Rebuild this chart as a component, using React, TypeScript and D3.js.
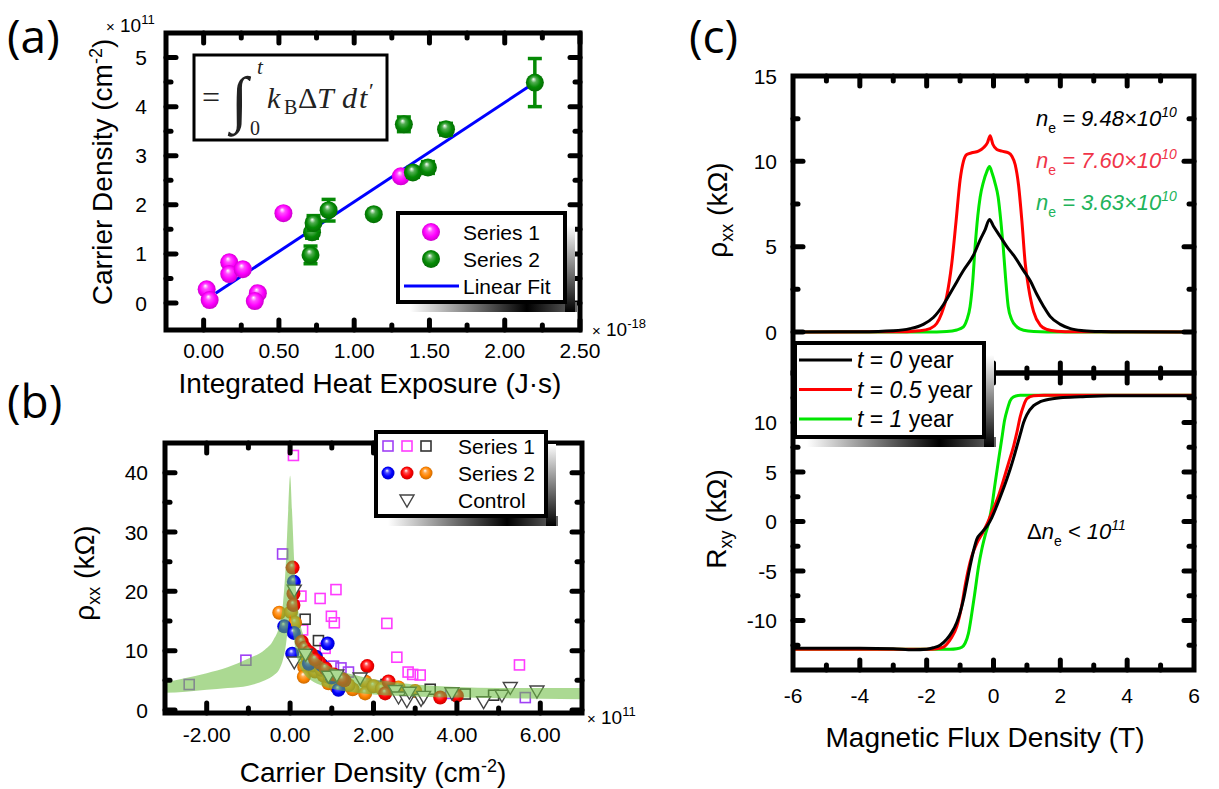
import React from "react";
import * as d3 from "d3";

// ---------- (a) carrier density vs integrated heat exposure ----------
const heatS1 = [0.02, 0.04, 0.17, 0.17, 0.26, 0.36, 0.34, 0.53, 1.31];
const densS1 = [0.28, 0.06, 0.83, 0.59, 0.69, 0.2, 0.04, 1.83, 2.58];
const heatS2 = [0.71, 0.72, 0.73, 0.83, 1.13, 1.33, 1.39, 1.49, 1.61, 2.2];
const densS2 = [0.98, 1.44, 1.63, 1.89, 1.81, 3.64, 2.66, 2.76, 3.54, 4.49];
const errS2 = [0.18, 0.12, 0.15, 0.22, 0, 0.15, 0.1, 0.12, 0.12, 0.49];
const fitHeat = [0.08, 2.2];
const fitDens = [0.2, 4.49];
const aXTicks = [0, 0.5, 1, 1.5, 2, 2.5];
const aXMinor = [0.25, 0.75, 1.25, 1.75, 2.25];
const aYTicks = [0, 1, 2, 3, 4, 5];
const aYMinor = [0.5, 1.5, 2.5, 3.5, 4.5];

// ---------- (b) rho_xx vs carrier density ----------
const sqVioletN = [-2.42, -1.06, -0.18, 1.04, 1.22, 1.4, 2.14, 3.85, 5.64];
const sqVioletR = [4.3, 8.4, 26.3, 7.4, 7.1, 6.4, 4.0, 2.8, 2.1];
const sqPinkN = [0.08, 0.26, 0.72, 1.1, 0.99, 1.06, 2.32, 2.56, 2.83, 2.94, 3.12, 5.5, 0.3, 0.84];
const sqPinkR = [42.9, 19.2, 18.8, 20.3, 15.8, 14.7, 14.6, 8.9, 6.4, 6.0, 5.9, 7.6, 13.5, 10.4];
const sqDarkN = [0.36, 0.68, 2.3, 3.36, 4.2, 4.88];
const sqDarkR = [15.3, 11.7, 4.3, 3.5, 2.7, 2.5];
const blueN = [0.09, -0.14, 0.09, 0.05, 0.62, 0.9, 0.76, 1.16, 0.45, 1.0];
const blueR = [21.6, 14.1, 13.0, 9.5, 9.0, 11.2, 7.6, 3.4, 7.8, 5.5];
const redN = [0.06, 0.08, 0.08, 0.28, 1.85, 2.28, 2.36, 3.6, 4.0, 0.5, 0.7, 1.3, 0.35, 0.45, 0.6, 0.85, 1.05, 1.25];
const redR = [24.0, 19.6, 17.7, 11.5, 7.4, 2.8, 4.8, 2.1, 2.4, 9.5, 8.0, 5.0, 10.5, 9.8, 8.5, 7.0, 6.0, 5.2];
const orangeN = [-0.26, 0.02, 0.12, 0.34, 0.33, 0.92, 1.8, 1.8, 0.6, 0.8, 1.1, 2.6, 3.0, 1.5, 0.4, 0.55, 0.75, 0.95, 1.2, 1.4, 2.0, 2.2];
const orangeR = [16.4, 16.5, 14.7, 7.2, 5.6, 4.5, 4.8, 2.8, 6.5, 5.8, 4.0, 3.8, 3.2, 3.5, 9.0, 7.5, 6.8, 5.5, 4.6, 4.2, 4.0, 3.6];
const ctrlN = [0.1, 0.1, 0.37, 0.92, 1.12, 1.68, 2.52, 2.6, 2.8, 2.86, 3.14, 3.2, 3.88, 4.64, 5.08, 5.28, 5.92];
const ctrlR = [20.2, 8.1, 9.4, 5.7, 5.9, 5.4, 3.3, 2.2, 1.6, 3.0, 1.8, 2.3, 2.9, 1.4, 2.5, 3.8, 3.2];
const bandN = [-3, -2.5, -2, -1.5, -1, -0.6, -0.4, -0.25, -0.17, -0.1, -0.05, 0, 0.05, 0.1, 0.2, 0.35, 0.5, 0.8, 1.2, 1.6, 2, 2.5, 3, 4, 5, 6, 7];
const bandHigh = [4.7, 5.4, 6.2, 7.2, 8.7, 10.2, 11.8, 14.5, 18, 25, 33, 39.5, 33, 25, 16.5, 12, 10, 8, 6.6, 5.8, 5.2, 4.7, 4.3, 3.9, 3.7, 3.7, 3.7];
const bandLow = [2.9, 3.1, 3.4, 3.7, 4.1, 5.0, 5.8, 7.0, 8.5, 11, 14, 16, 14, 11.5, 8, 6, 5, 4, 3.3, 2.9, 2.6, 2.4, 2.3, 2.1, 2.0, 1.9, 1.8];
const bXTicks = [-2, 0, 2, 4, 6];
const bXMinor = [-1, 1, 3, 5];
const bYTicks = [0, 10, 20, 30, 40];
const bYMinor = [5, 15, 25, 35];

// ---------- (c) magnetotransport ----------
const rxxB0 = [-6, -4, -3, -2.5, -2.1, -1.8, -1.5, -1.2, -0.9, -0.6, -0.4, -0.25, -0.12, 0.0, 0.2, 0.4, 0.6, 0.9, 1.1, 1.3, 1.5, 1.7, 2.0, 2.3, 2.7, 3.2, 4, 6];
const rxx0 = [0, 0.02, 0.08, 0.2, 0.45, 0.85, 1.6, 2.6, 3.6, 4.5, 5.4, 6.0, 6.6, 6.2, 5.6, 5.0, 4.5, 3.6, 3.0, 2.2, 1.5, 0.9, 0.45, 0.2, 0.08, 0.03, 0.01, 0];
const rxxB05 = [-6, -3, -2.2, -1.9, -1.7, -1.55, -1.4, -1.25, -1.12, -1.0, -0.9, -0.8, -0.65, -0.45, -0.3, -0.18, -0.1, -0.02, 0.1, 0.25, 0.45, 0.55, 0.65, 0.75, 0.85, 0.95, 1.05, 1.2, 1.4, 1.6, 1.9, 2.4, 6];
const rxx05 = [0, 0.01, 0.08, 0.2, 0.5, 1.1, 2.1, 4.0, 6.5, 8.9, 10.0, 10.4, 10.5, 10.6, 10.8, 11.1, 11.5, 11.0, 10.7, 10.6, 10.5, 10.3, 9.8, 8.6, 6.5, 4.0, 2.6, 1.2, 0.4, 0.15, 0.05, 0.01, 0];
const rxxB1 = [-6, -2, -1.4, -1.1, -0.9, -0.8, -0.7, -0.62, -0.55, -0.47, -0.4, -0.3, -0.2, -0.12, -0.04, 0.05, 0.14, 0.22, 0.29, 0.36, 0.44, 0.55, 0.7, 0.9, 1.2, 2, 6];
const rxx1 = [0, 0, 0.03, 0.12, 0.3, 0.7, 1.5, 3.0, 5.0, 6.8, 7.9, 8.8, 9.4, 9.7, 9.3, 8.7, 7.9, 6.5, 5.0, 3.2, 1.5, 0.7, 0.3, 0.1, 0.03, 0, 0];
const rxyB0 = [-6, -4, -3, -2.4, -2.0, -1.8, -1.6, -1.4, -1.25, -1.1, -1.0, -0.9, -0.8, -0.7, -0.6, -0.5, -0.35, -0.2, -0.05, 0.1, 0.25, 0.4, 0.5, 0.6, 0.7, 0.8, 0.9, 1.0, 1.2, 1.4, 1.6, 2.0, 2.6, 3.5, 4.5, 6];
const rxy0 = [-12.8, -12.8, -12.85, -12.95, -12.9, -12.75, -12.5, -11.9, -11.2, -10.2, -9.2, -7.9, -6.2, -4.5, -3.0, -1.8, -1.1, -0.5, 0.4, 1.6, 2.9, 4.3, 5.3, 6.4, 7.6, 8.8, 10.0, 10.8, 11.7, 12.1, 12.3, 12.5, 12.6, 12.7, 12.7, 12.7];
const rxyB05 = [-6, -3, -2.0, -1.7, -1.5, -1.4, -1.25, -1.1, -0.95, -0.85, -0.75, -0.65, -0.5, -0.35, -0.2, -0.1, 0.0, 0.15, 0.3, 0.45, 0.6, 0.7, 0.8, 0.9, 1.0, 1.2, 1.5, 2, 6];
const rxy05 = [-12.9, -12.9, -12.9, -12.85, -12.7, -12.4, -11.7, -10.6, -8.5, -6.5, -4.8, -3.5, -2.2, -1.3, -0.3, 0.5, 1.3, 2.6, 4.2, 5.9, 7.6, 9.0, 10.6, 11.7, 12.4, 12.7, 12.75, 12.75, 12.75];
const rxyB1 = [-6, -2, -1.3, -1.1, -0.95, -0.85, -0.75, -0.65, -0.55, -0.45, -0.35, -0.25, -0.15, -0.05, 0.05, 0.15, 0.25, 0.33, 0.42, 0.5, 0.6, 0.8, 1.2, 6];
const rxy1 = [-12.9, -12.9, -12.9, -12.85, -12.7, -12.3, -11.3, -9.3, -7.0, -4.6, -2.8, -1.4, -0.2, 1.5, 3.9, 6.2, 8.4, 10.2, 11.4, 12.2, 12.6, 12.75, 12.75, 12.75];
const cXTicks = [-6, -4, -2, 0, 2, 4, 6];
const cXMinor = [-5, -3, -1, 1, 3, 5];
const cTopTicks = [0, 5, 10, 15];
const cTopMinor = [2.5, 7.5, 12.5];
const cBotTicks = [-10, -5, 0, 5, 10];
const cBotMinor = [-12.5, -7.5, -2.5, 2.5, 7.5, 12.5];
const legendC = ["0", "0.5", "1"];
const colorsC = ["#000000", "#ff0000", "#00e600"];

const SANS = "'Liberation Sans', Arial, sans-serif";
const SERIF = "'Liberation Serif', 'DejaVu Serif', serif";
const LETTER = "'Open Sans', 'Noto Sans', sans-serif";

const fmt2 = (v: number) => d3.format(".2f")(v).replace("−", "-");
const fmtInt = (v: number) => d3.format("d")(v).replace("−", "-");

const sphereColors: [string, string][] = [
  ["magenta", "#ff00ff"],
  ["green", "#058a05"],
  ["blue", "#0000ff"],
  ["red", "#ff0000"],
  ["orange", "#ff8400"],
];

function SphereGrad({ id, color }: { id: string; color: string }) {
  const dark = d3.color(color)!.darker(0.8).formatHex();
  return (
    <radialGradient id={"sph-" + id} cx="0.5" cy="0.5" r="0.55" fx="0.42" fy="0.3">
      <stop offset="0" stopColor="#ffffff" />
      <stop offset="0.28" stopColor={d3.interpolateRgb(color, "#fff")(0.3)} />
      <stop offset="0.62" stopColor={color} />
      <stop offset="1" stopColor={dark} />
    </radialGradient>
  );
}

function Ticks({ scale, values, side, edge, len }: any) {
  return (
    <g stroke="#000" strokeWidth={5} strokeLinecap="round">
      {values.map((v: number) => {
        const p = scale(v);
        if (side === "bottom") return <line key={v} x1={p} x2={p} y1={edge} y2={edge - len} />;
        if (side === "top") return <line key={v} x1={p} x2={p} y1={edge} y2={edge + len} />;
        if (side === "left") return <line key={v} y1={p} y2={p} x1={edge} x2={edge + len} />;
        return <line key={v} y1={p} y2={p} x1={edge} x2={edge - len} />;
      })}
    </g>
  );
}

function Box4({ x, y, sx, sy, xMaj, xMin, yMaj, yMin }: any) {
  const [L, R] = x;
  const [T, B] = y;
  return (
    <g>
      <rect x={L} y={T} width={R - L} height={B - T} fill="none" stroke="#000" strokeWidth={5} />
      <Ticks scale={sx} values={xMaj} side="bottom" edge={B} len={10} />
      <Ticks scale={sx} values={xMin} side="bottom" edge={B} len={5} />
      <Ticks scale={sx} values={xMaj} side="top" edge={T} len={10} />
      <Ticks scale={sx} values={xMin} side="top" edge={T} len={5} />
      <Ticks scale={sy} values={yMaj} side="left" edge={L} len={10} />
      <Ticks scale={sy} values={yMin} side="left" edge={L} len={5} />
      <Ticks scale={sy} values={yMaj} side="right" edge={R} len={10} />
      <Ticks scale={sy} values={yMin} side="right" edge={R} len={5} />
    </g>
  );
}

function LegendBox({ x, y, w, h, id }: any) {
  return (
    <g>
      <defs>
        <linearGradient id={id + "-b"} x1="0" x2="1" y1="0" y2="0">
          <stop offset="0" stopColor="#fff" />
          <stop offset="0.7" stopColor="#000" />
          <stop offset="1" stopColor="#666" />
        </linearGradient>
        <linearGradient id={id + "-r"} x1="0" x2="0" y1="0" y2="1">
          <stop offset="0" stopColor="#fff" />
          <stop offset="1" stopColor="#000" />
        </linearGradient>
      </defs>
      <rect x={x + 12} y={y + h} width={w} height={10} fill={`url(#${id}-b)`} />
      <rect x={x + w} y={y + 12} width={10} height={h - 2} fill={`url(#${id}-r)`} />
      <rect x={x} y={y} width={w} height={h} fill="#fff" stroke="#000" strokeWidth={4} />
    </g>
  );
}

function YLabels({ scale, values, x, fmt }: any) {
  return (
    <g fontSize={21} textAnchor="end">
      {values.map((v: number) => (
        <text key={v} x={x} y={scale(v) + 7.5}>{fmt(v)}</text>
      ))}
    </g>
  );
}

function XLabels({ scale, values, y, fmt }: any) {
  return (
    <g fontSize={21} textAnchor="middle">
      {values.map((v: number) => (
        <text key={v} x={scale(v)} y={y}>{fmt(v)}</text>
      ))}
    </g>
  );
}

function PanelA() {
  const sx = d3.scaleLinear().domain([-0.25, 2.5]).range([166, 580]);
  const sy = d3.scaleLinear().domain([-0.55, 5.5]).range([330, 33]);
  const fit = d3.line()(fitHeat.map((h, i) => [sx(h), sy(fitDens[i])]) as [number, number][]);
  return (
    <g>
      <text x={7} y={53} fontSize={46} fontFamily={LETTER}>(a)</text>
      {/* formula box */}
      <rect x={194} y={55} width={193} height={85} fill="#fff" stroke="#000" strokeWidth={3} />
      <g fontFamily={SERIF} fill="#222">
        <text x={202} y={108} fontSize={32}>=</text>
        <text x={231} y={120} fontSize={62}>∫</text>
        <text x={257} y={74} fontSize={21} fontStyle="italic">t</text>
        <text x={250} y={135} fontSize={20}>0</text>
        <text x={267} y={108} fontSize={30} fontStyle="italic">k</text>
        <text x={284} y={114} fontSize={20}>B</text>
        <text x={298} y={108} fontSize={30}>Δ</text>
        <text x={317} y={108} fontSize={30} fontStyle="italic">T</text>
        <text x={342} y={108} fontSize={30} fontStyle="italic">d</text>
        <text x={359} y={108} fontSize={30} fontStyle="italic">t</text>
        <text x={369} y={98} fontSize={22}>′</text>
      </g>
      <path d={fit ?? ""} stroke="#0000ff" strokeWidth={3} fill="none" />
      {heatS1.map((h, i) => (
        <circle key={"s1" + i} cx={sx(h)} cy={sy(densS1[i])} r={9} fill="url(#sph-magenta)" />
      ))}
      {heatS2.map((h, i) => {
        const e = errS2[i];
        const cx = sx(h);
        return (
          <g key={"s2" + i}>
            {e > 0 && (
              <g stroke="#058a05" strokeWidth={3.5}>
                <line x1={cx} x2={cx} y1={sy(densS2[i] - e)} y2={sy(densS2[i] + e)} />
                <line x1={cx - 7} x2={cx + 7} y1={sy(densS2[i] - e)} y2={sy(densS2[i] - e)} />
                <line x1={cx - 7} x2={cx + 7} y1={sy(densS2[i] + e)} y2={sy(densS2[i] + e)} />
              </g>
            )}
            <circle cx={cx} cy={sy(densS2[i])} r={9} fill="url(#sph-green)" />
          </g>
        );
      })}
      <Box4 x={[166, 580]} y={[33, 330]} sx={sx} sy={sy} xMaj={aXTicks} xMin={aXMinor} yMaj={aYTicks} yMin={aYMinor} />
      <XLabels scale={sx} values={aXTicks} y={358} fmt={fmt2} />
      <YLabels scale={sy} values={aYTicks} x={147} fmt={fmtInt} />
      <text x={106} y={32} fontSize={19}>
        <tspan fontSize={15}>×</tspan> 10<tspan dy={-8} fontSize={13}>11</tspan>
      </text>
      <text x={592} y={336} fontSize={19}>
        <tspan fontSize={15}>×</tspan> 10<tspan dy={-8} fontSize={13}>-18</tspan>
      </text>
      <text transform="translate(112,172) rotate(-90)" fontSize={28} textAnchor="middle">
        Carrier Density (cm<tspan dy={-10} fontSize={18}>-2</tspan><tspan dy={10}>)</tspan>
      </text>
      <text x={370} y={393} fontSize={28} textAnchor="middle">Integrated Heat Exposure (J·s)</text>
      <LegendBox x={398} y={213} w={167} h={89} id="lga" />
      <circle cx={431} cy={232} r={9} fill="url(#sph-magenta)" />
      <circle cx={431} cy={259} r={9} fill="url(#sph-green)" />
      <line x1={404} x2={459} y1={286} y2={286} stroke="#0000ff" strokeWidth={3} />
      <g fontSize={21}>
        <text x={463} y={239.5}>Series 1</text>
        <text x={463} y={266.5}>Series 2</text>
        <text x={463} y={293.5}>Linear Fit</text>
      </g>
    </g>
  );
}

function tri(cx: number, cy: number) {
  return `M${cx - 7},${cy - 5}L${cx + 7},${cy - 5}L${cx},${cy + 7}Z`;
}

function PanelB() {
  const sx = d3.scaleLinear().domain([-3, 7]).range([165, 582]);
  const sy = d3.scaleLinear().domain([-0.5, 45]).range([713, 443]);
  const band = d3
    .area<number>()
    .x((n) => sx(n))
    .y0((_, i) => sy(bandLow[i]))
    .y1((_, i) => sy(bandHigh[i]))
    .curve(d3.curveMonotoneX)(bandN);
  const squares: [number[], number[], string][] = [
    [sqVioletN, sqVioletR, "#a040f5"],
    [sqPinkN, sqPinkR, "#ff3cff"],
    [sqDarkN, sqDarkR, "#333333"],
  ];
  const spheres: [number[], number[], string][] = [
    [orangeN, orangeR, "orange"],
    [blueN, blueR, "blue"],
    [redN, redR, "red"],
  ];
  return (
    <g>
      <text x={7} y={418} fontSize={46} fontFamily={LETTER}>(b)</text>
      {squares.map(([xs, ys, c], k) =>
        xs.map((n, i) => (
          <rect key={k + "-" + i} x={sx(n) - 5} y={sy(ys[i]) - 5} width={10} height={10} fill="none" stroke={c} strokeWidth={1.6} />
        ))
      )}
      {spheres.map(([xs, ys, c], k) =>
        xs.map((n, i) => <circle key={k + "-" + i} cx={sx(n)} cy={sy(ys[i])} r={7} fill={`url(#sph-${c})`} />)
      )}
      {ctrlN.map((n, i) => (
        <path key={"t" + i} d={tri(sx(n), sy(ctrlR[i]))} fill="#fff" stroke="#444" strokeWidth={1.4} />
      ))}
      <path d={band ?? ""} fill="#6ebe44" fillOpacity={0.58} />
      <Box4 x={[165, 582]} y={[443, 713]} sx={sx} sy={sy} xMaj={bXTicks} xMin={bXMinor} yMaj={bYTicks} yMin={bYMinor} />
      <XLabels scale={sx} values={bXTicks} y={742} fmt={fmt2} />
      <YLabels scale={sy} values={bYTicks} x={148} fmt={fmtInt} />
      <text x={587} y={724} fontSize={19}>
        <tspan fontSize={15}>×</tspan> 10<tspan dy={-8} fontSize={13}>11</tspan>
      </text>
      <text transform="translate(94,573) rotate(-90)" fontSize={28} textAnchor="middle">
        ρ<tspan dy={6} fontSize={18}>xx</tspan><tspan dy={-6}> (kΩ)</tspan>
      </text>
      <text x={373} y={782} fontSize={28} textAnchor="middle">
        Carrier Density (cm<tspan dy={-10} fontSize={18}>-2</tspan><tspan dy={10}>)</tspan>
      </text>
      <LegendBox x={376} y={432} w={170} h={84} id="lgb" />
      {squares.map(([, , c], k) => (
        <rect key={"ls" + k} x={388 + k * 19 - 5} y={441} width={10} height={10} fill="none" stroke={c} strokeWidth={1.6} />
      ))}
      {["blue", "red", "orange"].map((c, k) => (
        <circle key={"lc" + k} cx={388 + k * 19} cy={473} r={6.5} fill={`url(#sph-${c})`} />
      ))}
      <path d={tri(407, 500)} fill="#fff" stroke="#444" strokeWidth={1.4} />
      <g fontSize={21}>
        <text x={458} y={453.5}>Series 1</text>
        <text x={458} y={480.5}>Series 2</text>
        <text x={458} y={507.5}>Control</text>
      </g>
    </g>
  );
}

function PanelC() {
  const sx = d3.scaleLinear().domain([-6, 6]).range([793, 1194]);
  const syT = d3.scaleLinear().domain([-2.4, 15]).range([373, 76]);
  const syB = d3.scaleLinear().domain([-15, 15]).range([670, 373]);
  const mk = (xs: number[], ys: number[], sy: any) =>
    d3.line<number>().x((b) => sx(b)).y((_, i) => sy(ys[i])).curve(d3.curveMonotoneX)(xs) ?? "";
  const top = [mk(rxxB0, rxx0, syT), mk(rxxB05, rxx05, syT), mk(rxxB1, rxx1, syT)];
  const bot = [mk(rxyB0, rxy0, syB), mk(rxyB05, rxy05, syB), mk(rxyB1, rxy1, syB)];
  const order = [2, 1, 0];
  return (
    <g>
      <text x={689} y={53} fontSize={46} fontFamily={LETTER}>(c)</text>
      <g fill="none" strokeWidth={3} strokeLinejoin="round">
        {order.map((k) => <path key={"t" + k} d={top[k]} stroke={colorsC[k]} />)}
        {order.map((k) => <path key={"b" + k} d={bot[k]} stroke={colorsC[k]} />)}
      </g>
      <Box4 x={[793, 1194]} y={[76, 373]} sx={sx} sy={syT} xMaj={cXTicks.slice(1, -1)} xMin={cXMinor} yMaj={cTopTicks.slice(0, -1)} yMin={cTopMinor} />
      <Box4 x={[793, 1194]} y={[373, 670]} sx={sx} sy={syB} xMaj={cXTicks.slice(1, -1)} xMin={cXMinor} yMaj={cBotTicks} yMin={cBotMinor} />
      <XLabels scale={sx} values={cXTicks} y={703} fmt={fmtInt} />
      <YLabels scale={syT} values={cTopTicks} x={777} fmt={fmtInt} />
      <YLabels scale={syB} values={cBotTicks} x={777} fmt={fmtInt} />
      <text transform="translate(727,210) rotate(-90)" fontSize={28} textAnchor="middle">
        ρ<tspan dy={6} fontSize={18}>xx</tspan><tspan dy={-6}> (kΩ)</tspan>
      </text>
      <text transform="translate(726,519) rotate(-90)" fontSize={28} textAnchor="middle">
        R<tspan dy={6} fontSize={18}>xy</tspan><tspan dy={-6}> (kΩ)</tspan>
      </text>
      <text x={985} y={747} fontSize={28} textAnchor="middle">Magnetic Flux Density (T)</text>
      <g fontSize={22} fontStyle="italic">
        {[["9.48", "#000000", 126], ["7.60", "#f03448", 168], ["3.63", "#22b35a", 210]].map(([v, c, y]) => (
          <text key={v as string} x={1036} y={y as number} fill={c as string}>
            n<tspan dy={7} fontSize={14} fontStyle="normal">e</tspan>
            <tspan dy={-7}>{" = " + v + "×10"}</tspan>
            <tspan dy={-9} fontSize={14}>10</tspan>
          </text>
        ))}
        <text x={1027} y={539}>
          <tspan fontStyle="normal">Δ</tspan>n<tspan dy={7} fontSize={14} fontStyle="normal">e</tspan>
          <tspan dy={-7}>{" < 10"}</tspan>
          <tspan dy={-9} fontSize={14}>11</tspan>
        </text>
      </g>
      <LegendBox x={795} y={343} w={189} h={94} id="lgc" />
      {legendC.map((t, k) => {
        const y = 360 + k * 29.5;
        return (
          <g key={t}>
            <line x1={799} x2={852} y1={y} y2={y} stroke={colorsC[k]} strokeWidth={3} />
            <text x={857} y={y + 8} fontSize={23}>
              <tspan fontStyle="italic">t</tspan>
              {" = "}
              <tspan fontStyle="italic">{t}</tspan>
              {" year"}
            </text>
          </g>
        );
      })}
    </g>
  );
}

export default function App() {
  return (
    <svg
      width={1219}
      height={789}
      viewBox="0 0 1219 789"
      style={{ position: "absolute", left: 0, top: 0, background: "#fff" }}
      fontFamily={SANS}
    >
      <defs>
        {sphereColors.map(([id, c]) => (
          <SphereGrad key={id} id={id} color={c} />
        ))}
      </defs>
      <PanelA />
      <PanelB />
      <PanelC />
    </svg>
  );
}
